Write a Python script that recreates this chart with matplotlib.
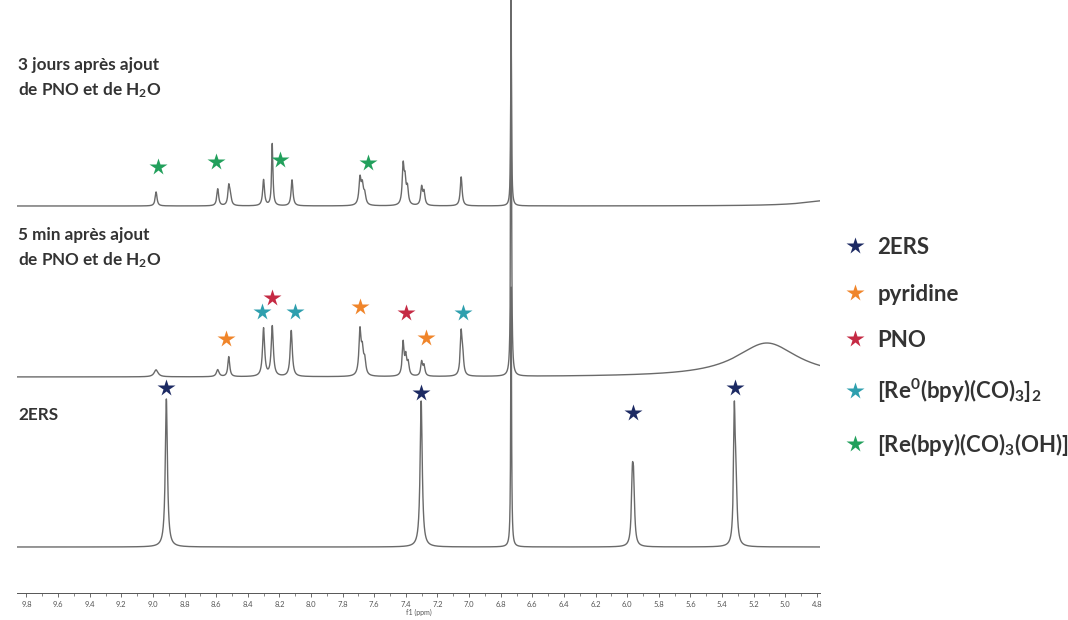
import numpy as np
import matplotlib
matplotlib.use("Agg")
import matplotlib.pyplot as plt
from matplotlib.lines import Line2D
from matplotlib.ticker import MultipleLocator, FormatStrFormatter

plt.rcParams['font.family'] = ['Lato', 'DejaVu Sans']
plt.rcParams['mathtext.default'] = 'regular'

# peak lists: shift (ppm), intensity, half width (ppm)
bottom_shift = [8.915, 7.303, 5.967, 5.959, 5.322, 5.312, 6.734]
bottom_height = [148, 146, 60, 52, 122, 60, 260]
bottom_width = [0.008, 0.008, 0.007, 0.007, 0.006, 0.008, 0.003]

middle_shift = [8.98, 8.59, 8.52, 8.30, 8.245, 8.125, 7.69, 7.675, 7.66,
                7.417, 7.40, 7.385, 7.30, 7.285, 7.05, 7.04, 6.734, 5.116]
middle_height = [7, 7, 20, 48, 50, 46, 44, 22, 14,
                 33, 18, 12, 14, 10, 42, 16, 400, 34]
middle_width = [0.015, 0.01, 0.007, 0.008, 0.008, 0.008, 0.008, 0.008, 0.008,
                0.007, 0.007, 0.007, 0.007, 0.007, 0.007, 0.007, 0.003, 0.24]

top_shift = [8.98, 8.59, 8.52, 8.51, 8.30, 8.245, 8.12, 7.69, 7.675, 7.66,
             7.417, 7.405, 7.39, 7.30, 7.285, 7.05, 6.734, 4.70]
top_height = [14, 17, 19, 9, 26, 62, 26, 26, 18, 10,
              38, 22, 16, 18, 13, 29, 184, 6]
top_width = [0.007, 0.007, 0.007, 0.007, 0.007, 0.005, 0.007, 0.008, 0.008, 0.008,
             0.007, 0.007, 0.007, 0.007, 0.007, 0.007, 0.003, 0.2]

# star annotations: shift, height above its trace baseline, species
top_star_shift = [8.966, 8.599, 8.194, 7.638]
top_star_level = [39, 44, 46, 43]
top_star_kind = ['oh', 'oh', 'oh', 'oh']

middle_star_shift = [8.536, 8.308, 8.245, 8.10, 7.689, 7.398, 7.27, 7.038]
middle_star_level = [38, 65, 79, 65, 70, 64, 39, 64]
middle_star_kind = ['pyr', 're0', 'pno', 're0', 'pyr', 'pno', 'pyr', 're0']

bottom_star_shift = [8.915, 7.303, 5.963, 5.318]
bottom_star_level = [159, 154, 134, 159]
bottom_star_kind = ['2ers', '2ers', '2ers', '2ers']

species = ['2ers', 'pyr', 'pno', 're0', 'oh']
species_labels = ['2ERS', 'pyridine', 'PNO',
                  r'[Re$^0$(bpy)(CO)$_3$]$_2$', r'[Re(bpy)(CO)$_3$(OH)]']
species_colors = {'2ers': '#1c2a63', 'pyr': '#f0852a', 'pno': '#c52a44',
                  're0': '#2e9fae', 'oh': '#22a05c'}

trace_labels = ['3 jours après ajout\nde PNO et de H$_2$O',
                '5 min après ajout\nde PNO et de H$_2$O',
                '2ERS']


def spectrum(ppm, shifts, heights, widths):
    y = np.zeros_like(ppm)
    for s, h, w in zip(shifts, heights, widths):
        y += h / (1 + ((ppm - s) / w) ** 2)
    return y


fig = plt.figure(figsize=(10.68, 6.2), dpi=100)
ax = fig.add_axes([17 / 1068, 27 / 620, 803 / 1068, 593 / 620])

ppm = np.linspace(4.78, 9.86, 40000)
traces = [
    (387, top_shift, top_height, top_width, top_star_shift, top_star_level, top_star_kind),
    (216, middle_shift, middle_height, middle_width, middle_star_shift, middle_star_level, middle_star_kind),
    (46, bottom_shift, bottom_height, bottom_width, bottom_star_shift, bottom_star_level, bottom_star_kind),
]
for base, sh, he, wi, ss, sl, sk in traces:
    ax.plot(ppm, base + spectrum(ppm, sh, he, wi), color='#6a6a6a', lw=1.0)
    for x, lv, k in zip(ss, sl, sk):
        ax.plot(x, base + lv, marker='*', ms=13, color=species_colors[k],
                mec='none', ls='none')

ax.set_xlim(9.86, 4.78)
ax.set_ylim(0, 593)
ax.xaxis.set_major_locator(MultipleLocator(0.2))
ax.xaxis.set_minor_locator(MultipleLocator(0.1))
ax.xaxis.set_major_formatter(FormatStrFormatter('%.1f'))
ax.tick_params(axis='x', labelsize=5.5, length=3, width=0.6, colors='#555555',
               pad=3)
ax.tick_params(axis='x', which='minor', length=2, width=0.5, colors='#555555')
ax.set_xlabel('f1 (ppm)', fontsize=5, color='#555555', labelpad=0)
ax.set_yticks([])
for side in ['left', 'right', 'top']:
    ax.spines[side].set_visible(False)
ax.spines['bottom'].set_color('#555555')
ax.spines['bottom'].set_linewidth(0.7)

# trace captions
fig.text(18 / 1068, 1 - 57 / 620, trace_labels[0], fontsize=12.3, fontweight='bold',
         color='#333333', va='top', linespacing=1.5)
fig.text(18 / 1068, 1 - 227 / 620, trace_labels[1], fontsize=12.3, fontweight='bold',
         color='#333333', va='top', linespacing=1.5)
fig.text(18 / 1068, 1 - 415 / 620, trace_labels[2], fontsize=12.3, fontweight='bold',
         color='#333333', va='center')

handles = [Line2D([], [], marker='*', ls='none', ms=13, mec='none',
                  color=species_colors[k]) for k in species]
fig.legend(handles, species_labels, loc='upper left',
           bbox_to_anchor=(824 / 1068, 1 - 217 / 620), frameon=False,
           prop={'size': 16, 'weight': 'bold'}, labelspacing=1.15,
           handlelength=1.0, handletextpad=0.5, labelcolor='#333333')

fig.savefig('out.png', dpi=100, facecolor='white')
